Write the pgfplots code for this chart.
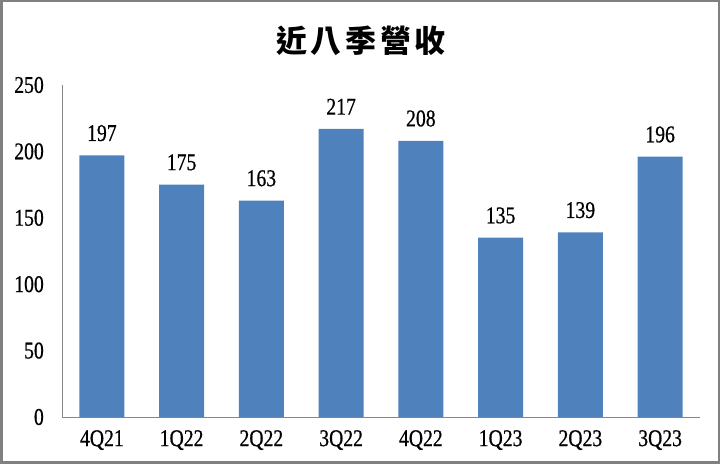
\documentclass[border=0pt]{standalone}
\usepackage{fontspec}
\setmainfont{Liberation Serif}[FakeStretch=0.82, FakeBold=0.6]
\newfontfamily\cjk{Noto Sans CJK TC}
\usepackage{pgfplots}
\pgfplotsset{compat=1.18}
\definecolor{barblue}{RGB}{79,129,189}
\definecolor{framegray}{RGB}{128,128,128}
\definecolor{axisgray}{RGB}{134,134,134}

\begin{document}
\begin{tikzpicture}
  \begin{axis}[
    at={(62bp,47bp)}, anchor=south west,
    scale only axis, width=638bp, height=332bp,
    ybar, bar width=45bp,
    xmin=-0.5, xmax=7.5, ymin=0, ymax=250,
    axis x line*=bottom, axis y line*=left,
    axis line style={axisgray, line width=0.8bp, -},
    major tick length=0pt,
    xtick=data,
    xticklabels={4Q21,1Q22,2Q22,3Q22,4Q22,1Q23,2Q23,3Q23},
    ytick={0,50,...,250},
    /pgf/number format/assume math mode=true,
    tick label style={font=\fontsize{24bp}{26bp}\selectfont, inner sep=0pt},
    yticklabel style={anchor=east, xshift=-18bp},
    xticklabel style={anchor=north, yshift=-13bp},
    nodes near coords,
    every node near coord/.append style={font=\fontsize{24bp}{26bp}\selectfont,
      inner sep=0pt, anchor=south, yshift=14bp},
  ]
    \addplot[fill=barblue, draw=none] coordinates {
      (0,197) (1,175) (2,163) (3,217) (4,208) (5,135) (6,139) (7,196)
    };
  \end{axis}
  \node[font={\cjk\bfseries\fontsize{31bp}{34bp}\selectfont\addfontfeature{LetterSpace=12}}, inner sep=0pt]
    at (361bp,423bp) {近八季營收};
  \draw[framegray, line width=2.5bp] (1.25bp,1.25bp) rectangle (718.75bp,462.75bp);
  \pgfresetboundingbox
  \useasboundingbox (0,0) rectangle (720bp,464bp);
\end{tikzpicture}
\end{document}
